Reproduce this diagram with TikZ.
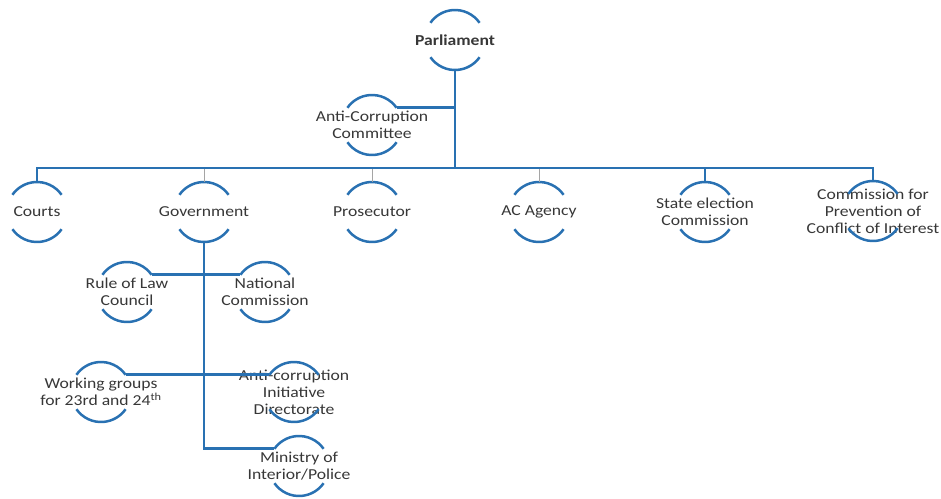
\documentclass[tikz,border=0pt]{standalone}
\usepackage{fontspec}
\setmainfont{Carlito}[FakeStretch=1.16]
\usepackage{tikz}
\usetikzlibrary{calc}
\definecolor{orgblue}{RGB}{41,113,178}
\definecolor{orgtext}{RGB}{55,55,55}
\definecolor{orggray}{RGB}{165,165,165}
\tikzset{
  ring/.style={circle, minimum size=60pt, inner sep=0pt, outer sep=0pt, label={[ringtext]center:#1}},
  ringtext/.style={align=center, text=orgtext, font=\fontsize{15.2}{17}\selectfont, inner sep=0pt},
  ringarc/.style={orgblue, line width=2.5pt},
  mainline/.style={orgblue, line width=2.8pt},
  thinline/.style={orggray, line width=0.9pt}
}

\begin{document}
\begin{tikzpicture}[x=1pt, y=1pt]
    \useasboundingbox (0,0) rectangle (941,-498);

    % 1. Top level
    \node[ring={\textbf{Parliament}}] (parl) at (455,-40) {};
    \node[ring={Anti-Corruption\\Committee}] (acc) at (372,-125) {};
    \coordinate (bus) at (455,-168);

    % 2. Second level
    \node[ring={Courts}] (courts) at (37,-212) {};
    \node[ring={Government}] (gov) at (204,-212) {};
    \node[ring={Prosecutor}] (pros) at (372,-212) {};
    \node[ring={AC Agency}] (acag) at (539,-212) {};
    \node[ring={State election\\Commission}] (sec) at (705,-212) {};
    \node[ring={Commission for\\Prevention of\\Conflict of Interest}] (cpci) at (873,-211) {};

    % 3. Under the government
    \node[ring={Rule of Law\\Council}] (rol) at (127,-292) {};
    \node[ring={National\\Commission}] (nat) at (265,-292) {};
    \node[ring={Working groups\\for 23rd and 24\textsuperscript{th}}] (wg) at (101,-392) {};
    \node[ring={Anti-corruption\\Initiative\\Directorate}] (acid) at (294,-392) {};
    \node[ring={Ministry of\\Interior/Police}] (min) at (299,-466) {};

    % 4. Arcs above and below each text
    \foreach \n in {parl, acc, courts, gov, pros, acag, sec, cpci, rol, nat, wg, acid, min} {
        \draw[ringarc] (\n.35) arc[start angle=35, end angle=145, radius=30pt];
        \draw[ringarc] (\n.215) arc[start angle=215, end angle=325, radius=30pt];
    }

    % 5. Connections
    \foreach \n in {gov, pros, acag} {
        \draw[thinline] (\n.north) -- (\n.north |- bus);
    }
    \draw[mainline] (parl.south) -- (bus);
    \draw[mainline] (courts.north) |- (bus) -| (cpci.north);
    \draw[mainline] (sec.north) -- (sec.north |- bus);
    \draw[mainline] (acc.35) -- (acc.35 -| parl.south);
    \draw[mainline] (gov.south) |- (min.145);
    \draw[mainline] (rol.35) -- (nat.145);
    \draw[mainline] (wg.35) -- (acid.145);
\end{tikzpicture}
\end{document}
